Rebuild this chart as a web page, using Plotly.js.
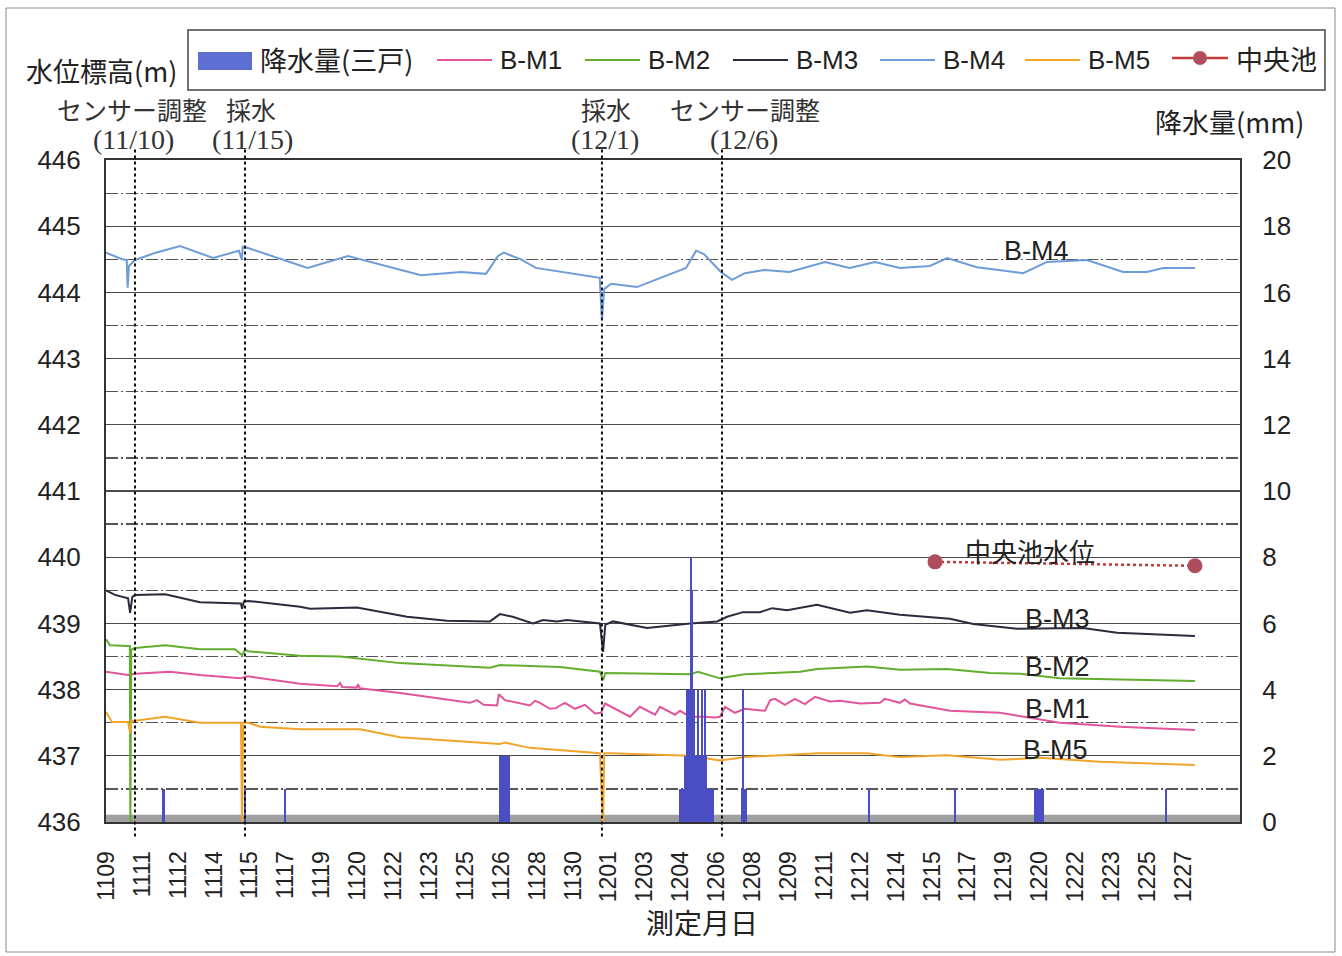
<!DOCTYPE html>
<html>
<head>
<meta charset="utf-8">
<script src="https://cdn.plot.ly/plotly-3.0.1.min.js"></script>
<style>html,body{margin:0;padding:0;background:#fff;}#chart{width:1342px;height:956px;}</style>
</head>
<body>
<div id="chart"></div>
<script>
// ---- data (x = days since 11/09 00:00) ----
const tickLabels = ["1109","1111","1112","1114","1115","1117","1119","1120","1122","1123","1125","1126","1128","1130","1201","1203","1204","1206","1208","1209","1211","1212","1214","1215","1217","1219","1220","1222","1223","1225","1227"];

const bm4X = [-0.23,0.5,0.70,0.74,0.80,1.07,2.0,3.09,4.57,5.73,5.85,5.9,6.14,8.8,10.62,13.89,15.68,16.8,17.34,17.6,18.37,19.04,21.9,22.0,22.1,22.41,23.57,25.77,26.22,26.57,27.33,27.83,28.41,29.3,30.4,32.0,33.1,34.24,35.36,36.7,37.47,38.81,40.88,41.95,43.74,45.36,46.43,47.15,48.58];
const bm4Y = [444.60,444.50,444.49,444.07,444.40,444.49,444.60,444.70,444.52,444.63,444.50,444.69,444.67,444.37,444.55,444.26,444.31,444.28,444.55,444.60,444.50,444.37,444.22,443.58,444.05,444.13,444.08,444.37,444.63,444.58,444.31,444.19,444.29,444.34,444.31,444.46,444.37,444.46,444.37,444.40,444.52,444.38,444.29,444.46,444.49,444.31,444.31,444.37,444.37];

const bm3X = [-0.23,0.17,0.76,0.85,0.95,1.07,2.42,3.98,5.1,5.82,5.87,5.95,6.14,8.47,8.92,10.13,11.02,13.26,15.06,16.98,17.43,18.0,18.91,19.36,19.98,20.43,21.91,22.05,22.15,22.5,24.02,25.95,27.16,27.61,28.32,29.08,29.63,30.3,31.64,33.12,33.88,35.36,37.6,38.64,40.6,43.56,45.09,48.58];
const bm3Y = [439.50,439.43,439.38,439.16,439.40,439.43,439.44,439.32,439.31,439.30,439.22,439.33,439.34,439.25,439.22,439.23,439.24,439.10,439.04,439.03,439.14,439.10,439.00,439.05,439.03,439.05,439.00,438.57,438.98,439.03,438.93,439.00,439.03,439.10,439.17,439.17,439.23,439.20,439.28,439.16,439.20,439.13,439.07,438.99,438.92,438.93,438.86,438.81];

const bm2X = [-0.23,-0.05,0.76,0.84,0.86,0.90,1.07,2.42,3.98,5.55,5.87,6.0,6.14,8.47,10.26,12.95,16.98,17.43,20.12,21.91,22.05,22.15,25.95,26.3,27.29,28.4,30.88,31.64,33.88,35.36,37.47,39.4,40.74,42.53,48.58];
const bm2Y = [438.76,438.67,438.66,438.66,435.9,438.60,438.63,438.67,438.61,438.61,438.52,438.60,438.58,438.51,438.50,438.40,438.33,438.37,438.34,438.27,438.14,438.25,438.23,438.27,438.17,438.23,438.27,438.31,438.35,438.30,438.31,438.25,438.24,438.17,438.13];

const bm1X = [-0.23,0.76,1.07,2.64,3.98,5.78,6.14,8.47,10.13,10.26,10.35,11.02,11.06,11.15,12.95,15.19,16.09,16.4,16.7,17.3,17.38,17.65,18.77,19.0,19.22,19.67,19.94,20.12,20.34,20.79,21.24,21.69,21.96,22.14,22.59,23.26,23.7,24.38,24.6,25.28,25.5,25.95,26.62,27.07,27.29,27.52,27.96,28.41,29.31,29.54,29.76,30.2,30.65,31.1,31.55,32.22,32.67,33.57,34.46,34.68,35.36,35.58,35.81,37.6,39.84,40.6,42.53,45.22,48.58];
const bm1Y = [438.27,438.22,438.24,438.27,438.22,438.17,438.20,438.09,438.05,438.10,438.04,438.03,438.08,438.02,437.95,437.84,437.80,437.84,437.77,437.76,437.93,437.84,437.76,437.83,437.80,437.71,437.72,437.76,437.80,437.71,437.77,437.64,437.65,437.79,437.71,437.59,437.74,437.62,437.74,437.62,437.68,437.59,437.59,437.58,437.59,437.74,437.65,437.71,437.68,437.84,437.86,437.77,437.86,437.78,437.89,437.82,437.83,437.79,437.80,437.86,437.80,437.85,437.79,437.68,437.65,437.61,437.50,437.44,437.39];

const bm5X = [-0.23,0.04,0.76,0.85,0.9,1.07,2.42,3.98,5.82,5.87,5.92,6.14,6.67,8.47,11.16,12.95,17.43,17.65,18.77,21.91,22.05,22.1,22.36,25.95,27.29,28.41,31.64,33.88,35.36,37.47,39.84,41.64,44.33,48.58];
const bm5Y = [437.66,437.51,437.51,437.34,437.53,437.53,437.59,437.50,437.50,435.9,437.50,437.50,437.44,437.40,437.40,437.28,437.18,437.20,437.12,437.04,435.9,437.04,437.04,437.00,436.93,436.98,437.04,437.04,436.98,437.01,436.94,436.97,436.91,436.86];

const pondX = [36.93, 48.58];
const pondY = [439.93, 439.87];

const rainDay = [2.33,2.37,6.0,7.80,
  17.43,17.47,17.52,17.56,17.61,17.65,17.70,17.74,17.79,17.83,
  25.50,25.54,25.59,25.63,25.68,25.72,25.77,25.81,25.86,25.90,25.95,25.99,26.04,26.08,26.13,26.17,26.22,26.27,26.31,26.35,26.40,26.44,26.49,26.53,26.58,26.62,26.66,26.71,26.76,26.80,26.84,26.93,26.98,
  28.28,28.32,28.37,28.41,28.46,
  33.97,37.83,
  41.41,41.46,41.50,41.55,41.59,41.64,41.68,41.73,41.77,
  47.28];
const rainMM = [1,1,1,1,
  2,2,2,2,2,2,2,2,2,2,
  1,1,1,1,1,2,2,4,4,4,4,8,7,4,4,2,2,2,4,2,2,2,4,2,2,4,2,1,1,1,1,1,1,
  1,4,1,1,1,
  1,1,
  1,1,1,1,1,1,1,1,1,
  1];

const eventDays = [1.07, 6.0, 22.0, 27.38];
const eventNames = ["センサー調整","採水","採水","センサー調整"];
const eventDates = ["(11/10)","(11/15)","(12/1)","(12/6)"];

const seriesNames = ["B-M1","B-M2","B-M3","B-M4","B-M5"];
const pondName = "中央池";
const rainName = "降水量(三戸)";

// ---- styling ----
const FONT = "'Liberation Sans', Arial, 'Noto Sans CJK JP', sans-serif";
const JFONT = "'Noto Sans CJK JP', 'Liberation Sans', sans-serif";
const SERIF = "'Liberation Serif', 'Noto Sans CJK JP', serif";
const colors = {"B-M1":"#e0559c","B-M2":"#62ad2e","B-M3":"#2b2b3d","B-M4":"#6e9cd8","B-M5":"#f2a42a"};
const rainColor = "#4b4dc2";
const pondLine = "#c23b3b", pondMarker = "#b04d5c";

const L = 106, R = 102, T = 160, B = 134, W = 1342, H = 956;
const PW = W - L - R, PH = H - T - B;
const PX = x => (x - L) / PW;
const PY = y => (H - B - y) / PH;

const seriesX = {"B-M1":bm1X,"B-M2":bm2X,"B-M3":bm3X,"B-M4":bm4X,"B-M5":bm5X};
const seriesY = {"B-M1":bm1Y,"B-M2":bm2Y,"B-M3":bm3Y,"B-M4":bm4Y,"B-M5":bm5Y};

const traces = [];
seriesNames.forEach(n => {
  traces.push({type:"scatter", mode:"lines", name:n, x:seriesX[n], y:seriesY[n],
    line:{color:colors[n], width:2}, showlegend:false, hoverinfo:"x+y+name"});
});
traces.push({type:"scatter", mode:"lines+markers", name:pondName, x:pondX, y:pondY,
  line:{color:pondLine, width:2.5, dash:"dot"}, marker:{color:pondMarker, size:15}, showlegend:false, cliponaxis:false});
traces.push({type:"bar", name:rainName, x:rainDay, y:rainMM, yaxis:"y2", width:0.09,
  marker:{color:rainColor, line:{width:0}}, showlegend:false});

const shapes = [];
// grey strip at base
shapes.push({type:"rect", xref:"paper", yref:"y2", x0:0, x1:1, y0:0, y1:0.22, fillcolor:"#8f8f8f", opacity:0.85, line:{width:0}, layer:"below"});
// event lines
eventDays.forEach(d => shapes.push({type:"line", xref:"x", yref:"paper", x0:d, x1:d, y0:-0.022, y1:1.018,
  line:{color:"#111", width:2, dash:"dot"}}));
// outer frame
shapes.push({type:"rect", xref:"paper", yref:"paper", x0:PX(6), x1:PX(1335), y0:PY(952), y1:PY(8), line:{color:"#8a8a8a", width:1}});
// legend box
shapes.push({type:"rect", xref:"paper", yref:"paper", x0:PX(188), x1:PX(1325), y0:PY(90), y1:PY(30), line:{color:"#444", width:1.5}, fillcolor:"#fff"});

const annotations = [];
// legend entries
const legY = 60;
shapes.push({type:"rect", xref:"paper", yref:"paper", x0:PX(198), x1:PX(252), y0:PY(70), y1:PY(52), fillcolor:"#5d6fd2", line:{width:0}});
annotations.push({xref:"paper", yref:"paper", x:PX(258), y:PY(legY), xanchor:"left", yanchor:"middle", text:rainName, showarrow:false, font:{family:JFONT, size:27, color:"#222"}});
const legPos = {"B-M1":437,"B-M2":585,"B-M3":733,"B-M4":880,"B-M5":1025};
seriesNames.forEach(n => {
  const x0 = legPos[n];
  shapes.push({type:"line", xref:"paper", yref:"paper", x0:PX(x0), x1:PX(x0+55), y0:PY(legY), y1:PY(legY), line:{color:colors[n], width:2}});
  annotations.push({xref:"paper", yref:"paper", x:PX(x0+61), y:PY(legY), xanchor:"left", yanchor:"middle", text:n, showarrow:false, font:{family:FONT, size:26, color:"#222"}});
});
shapes.push({type:"line", xref:"paper", yref:"paper", x0:PX(1172), x1:PX(1228), y0:PY(legY-2), y1:PY(legY-2), line:{color:pondLine, width:2.5}});
shapes.push({type:"circle", xref:"paper", yref:"paper", x0:PX(1193), x1:PX(1207), y0:PY(65), y1:PY(51), fillcolor:pondMarker, line:{width:0}});
annotations.push({xref:"paper", yref:"paper", x:PX(1234), y:PY(legY-2), xanchor:"left", yanchor:"middle", text:pondName, showarrow:false, font:{family:JFONT, size:27, color:"#222"}});

// axis titles (horizontal)
annotations.push({xref:"paper", yref:"paper", x:PX(24), y:PY(71), xanchor:"left", yanchor:"middle", text:"水位標高(m)", showarrow:false, font:{family:JFONT, size:27, color:"#222"}});
annotations.push({xref:"paper", yref:"paper", x:PX(1306), y:PY(121), xanchor:"right", yanchor:"middle", text:"降水量(mm)", showarrow:false, font:{family:JFONT, size:27, color:"#222"}});
annotations.push({xref:"paper", yref:"paper", x:PX(702), y:PY(922), xanchor:"center", yanchor:"middle", text:"測定月日", showarrow:false, font:{family:JFONT, size:28, color:"#222"}});

// event labels
const evLabelX = [132, 251, 606, 745];
const evDateX = [133, 252, 605, 744];
eventNames.forEach((t, i) => {
  annotations.push({xref:"paper", yref:"paper", x:PX(evLabelX[i]), y:PY(109), xanchor:"center", yanchor:"middle", text:t, showarrow:false, font:{family:JFONT, size:25, color:"#333"}});
  annotations.push({xref:"paper", yref:"paper", x:PX(evDateX[i]), y:PY(139), xanchor:"center", yanchor:"middle", text:eventDates[i], showarrow:false, font:{family:SERIF, size:28, color:"#333"}});
});

// series labels on the chart
const labelX = {"B-M4":41.5,"B-M3":42.44,"B-M2":42.44,"B-M1":42.44,"B-M5":42.35};
const labelY = {"B-M4":444.62,"B-M3":439.07,"B-M2":438.34,"B-M1":437.71,"B-M5":437.09};
["B-M4","B-M3","B-M2","B-M1","B-M5"].forEach(n => {
  annotations.push({xref:"x", yref:"y", x:labelX[n], y:labelY[n], xanchor:"center", yanchor:"middle", text:n, showarrow:false, font:{family:FONT, size:27, color:"#222"}});
});
annotations.push({xref:"x", yref:"y", x:41.2, y:440.1, xanchor:"center", yanchor:"middle", text:"中央池水位", showarrow:false, font:{family:JFONT, size:26, color:"#222"}});

const step = 1.609, t0 = -0.21;
const tickVals = tickLabels.map((_, i) => t0 + i * step);

const layout = {
  width:W, height:H,
  margin:{l:L, r:R, t:T, b:B, pad:0},
  paper_bgcolor:"#fff", plot_bgcolor:"#fff",
  font:{family:FONT, color:"#222"},
  showlegend:false,
  bargap:0,
  xaxis:{range:[-0.23, 50.6], tickmode:"array", tickvals:tickVals, ticktext:tickLabels, tickangle:-90,
    tickfont:{family:FONT, size:23, color:"#222"}, showgrid:false, zeroline:false,
    showline:true, mirror:true, linecolor:"#333", linewidth:2,
    ticks:"outside", ticklen:18, tickcolor:"rgba(0,0,0,0)"},
  yaxis:{range:[436, 446], tick0:436, dtick:1, showgrid:true, gridcolor:"#4a4a4a", gridwidth:1.2,
    minor:{dtick:0.5, tick0:436, showgrid:true, griddash:"12px,3px,2px,3px", gridcolor:"#555", gridwidth:1.2, ticks:""},
    zeroline:false, showline:true, mirror:true, linecolor:"#333", linewidth:2,
    ticks:"outside", ticklen:18, tickcolor:"rgba(0,0,0,0)",
    tickfont:{family:FONT, size:26, color:"#222"}},
  yaxis2:{overlaying:"y", side:"right", range:[0, 20], tick0:0, dtick:2, showgrid:false, zeroline:false, showline:false,
    ticks:"outside", ticklen:16, tickcolor:"rgba(0,0,0,0)",
    tickfont:{family:FONT, size:26, color:"#222"}},
  shapes:shapes,
  annotations:annotations
};

Plotly.newPlot("chart", traces, layout, {displayModeBar:false, staticPlot:true});
</script>
</body>
</html>
